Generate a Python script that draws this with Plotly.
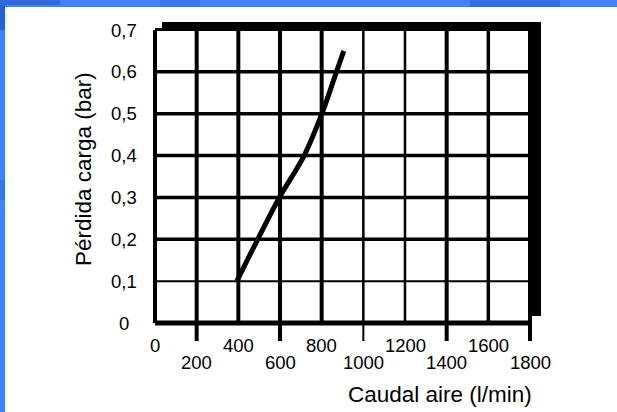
import plotly.graph_objects as go

# Pressure-drop curve: air flow (l/min) vs. pressure loss (bar)
flow = [393, 493, 597, 716, 801, 871, 906]
loss = [0.10, 0.20, 0.30, 0.40, 0.50, 0.60, 0.65]

x_ticks = [0, 200, 400, 600, 800, 1000, 1200, 1400, 1600, 1800]
x_tick_labels = ["0", "200", "400", "600", "800", "1000", "1200", "1400", "1600", "1800"]
y_ticks = [0, 0.1, 0.2, 0.3, 0.4, 0.5, 0.6, 0.7]
y_tick_labels = ["0", "0,1", "0,2", "0,3", "0,4", "0,5", "0,6", "0,7"]

x_title = "Caudal aire (l/min)"
y_title = "Pérdida carga (bar)"

# ---- page geometry (pixels) ----
W, H = 617, 412
ML, MR, MT, MB = 140, 70, 15, 67
X0_PX, X1_PX = 155, 530          # where 0 and 1800 fall
Y0_PX, Y1_PX = 323, 30           # where 0 and 0.7 fall
XMAX, YMAX = x_ticks[-1], y_ticks[-1]
kx = XMAX / (X1_PX - X0_PX)      # data units per pixel
ky = YMAX / (Y0_PX - Y1_PX)


def dx(px):
    return (px - X0_PX) * kx


def dy(py):
    return (Y0_PX - py) * ky


x_range = [dx(ML), dx(W - MR)]
y_range = [dy(H - MB), dy(MT)]

pw = W - ML - MR
ph = H - MT - MB


def paper_x(px):
    return (px - ML) / pw


def paper_y(py):
    return (H - MB - py) / ph


FONT = "Liberation Sans, Arial, sans-serif"
INK = "#000000"

fig = go.Figure()
fig.add_trace(go.Scatter(
    x=flow, y=loss, mode="lines",
    line=dict(color=INK, width=5, shape="spline", smoothing=0.9),
    hoverinfo="skip", showlegend=False,
))

shapes = []

# slide background bands
BLUE = "#4282f6"
shapes.append(dict(type="rect", xref="paper", yref="paper",
                   x0=paper_x(0), x1=paper_x(W), y0=paper_y(7), y1=paper_y(0),
                   fillcolor=BLUE, line_width=0, layer="below"))
shapes.append(dict(type="rect", xref="paper", yref="paper",
                   x0=paper_x(0), x1=paper_x(5), y0=paper_y(H), y1=paper_y(0),
                   fillcolor=BLUE, line_width=0, layer="below"))
for (a, b, c, d, col) in [(0, 60, 0, 5, "#2f6ad8"), (0, 5, 5, 30, "#2a62d4"),
                          (160, 200, 0, 7, "#3a78ea"), (470, 560, 0, 7, "#3270e2"),
                          (0, 5, 180, 200, "#3a76e6")]:
    shapes.append(dict(type="rect", xref="paper", yref="paper",
                       x0=paper_x(a), x1=paper_x(b), y0=paper_y(d), y1=paper_y(c),
                       fillcolor=col, line_width=0, layer="below"))

# heavy offset frame (top and right)
shapes.append(dict(type="rect", xref="x", yref="y",
                   x0=dx(162), x1=dx(541), y0=dy(31), y1=dy(22),
                   fillcolor=INK, line_width=0))
shapes.append(dict(type="rect", xref="x", yref="y",
                   x0=dx(528), x1=dx(541), y0=dy(316), y1=dy(22),
                   fillcolor=INK, line_width=0))

# vertical grid lines
v_width = {0: 4, 200: 4, 400: 4, 600: 4, 800: 4, 1000: 2.5,
           1200: 2.5, 1400: 4, 1600: 3.5, 1800: 4}
for xv in x_ticks:
    shapes.append(dict(type="line", xref="x", yref="y", x0=xv, x1=xv,
                       y0=0, y1=YMAX, line=dict(color=INK, width=v_width[xv])))

# horizontal grid lines
h_width = {0.1: 2, 0.2: 3.5, 0.3: 3.5, 0.4: 3.5, 0.5: 3.5, 0.6: 3.5}
for yv in y_ticks[1:-1]:
    shapes.append(dict(type="line", xref="x", yref="y", x0=0, x1=XMAX,
                       y0=yv, y1=yv, line=dict(color=INK, width=h_width[yv])))

# x axis baseline and the little stub at the top of the y axis
shapes.append(dict(type="line", xref="x", yref="y", x0=0, x1=XMAX, y0=0, y1=0,
                   line=dict(color=INK, width=5)))
shapes.append(dict(type="line", xref="x", yref="y", x0=0, x1=dx(165),
                   y0=dy(29.5), y1=dy(29.5), line=dict(color=INK, width=3)))

# tick marks under the axis (every other division)
for i, xv in enumerate(x_ticks):
    if i % 2 == 1:
        shapes.append(dict(type="line", xref="x", yref="y", x0=xv, x1=xv,
                           y0=0, y1=dy(341),
                           line=dict(color=INK, width=2 if xv == 1000 else 4)))

tick_font = dict(family=FONT, size=18.5, color=INK)
title_font = dict(family=FONT, size=22.5, color=INK)

annotations = []
# x tick labels staggered on two rows
for i, (xv, lab) in enumerate(zip(x_ticks, x_tick_labels)):
    row_py = 346 if i % 2 == 0 else 362.5
    annotations.append(dict(x=xv, y=paper_y(row_py), xref="x", yref="paper", text=lab,
                            showarrow=False, xanchor="center", yanchor="middle",
                            font=tick_font))
# y tick labels, centred in a column left of the axis
for yv, lab in zip(y_ticks, y_tick_labels):
    annotations.append(dict(x=paper_x(124), y=yv, xref="paper", yref="y", text=lab,
                            showarrow=False, xanchor="center", yanchor="middle",
                            font=tick_font))

annotations.append(dict(x=paper_x(439.5), y=paper_y(394), xref="paper", yref="paper",
                        text=x_title, showarrow=False, xanchor="center", yanchor="middle",
                        font=title_font))
annotations.append(dict(x=paper_x(83), y=paper_y(169), xref="paper", yref="paper",
                        text=y_title, textangle=-90, showarrow=False,
                        xanchor="center", yanchor="middle", font=title_font))

fig.update_layout(
    width=W, height=H,
    margin=dict(l=ML, r=MR, t=MT, b=MB, pad=0),
    paper_bgcolor="white", plot_bgcolor="white",
    xaxis=dict(range=x_range, visible=False, fixedrange=True),
    yaxis=dict(range=y_range, visible=False, fixedrange=True),
    shapes=shapes, annotations=annotations,
    showlegend=False,
)

fig.write_html("out.html")
